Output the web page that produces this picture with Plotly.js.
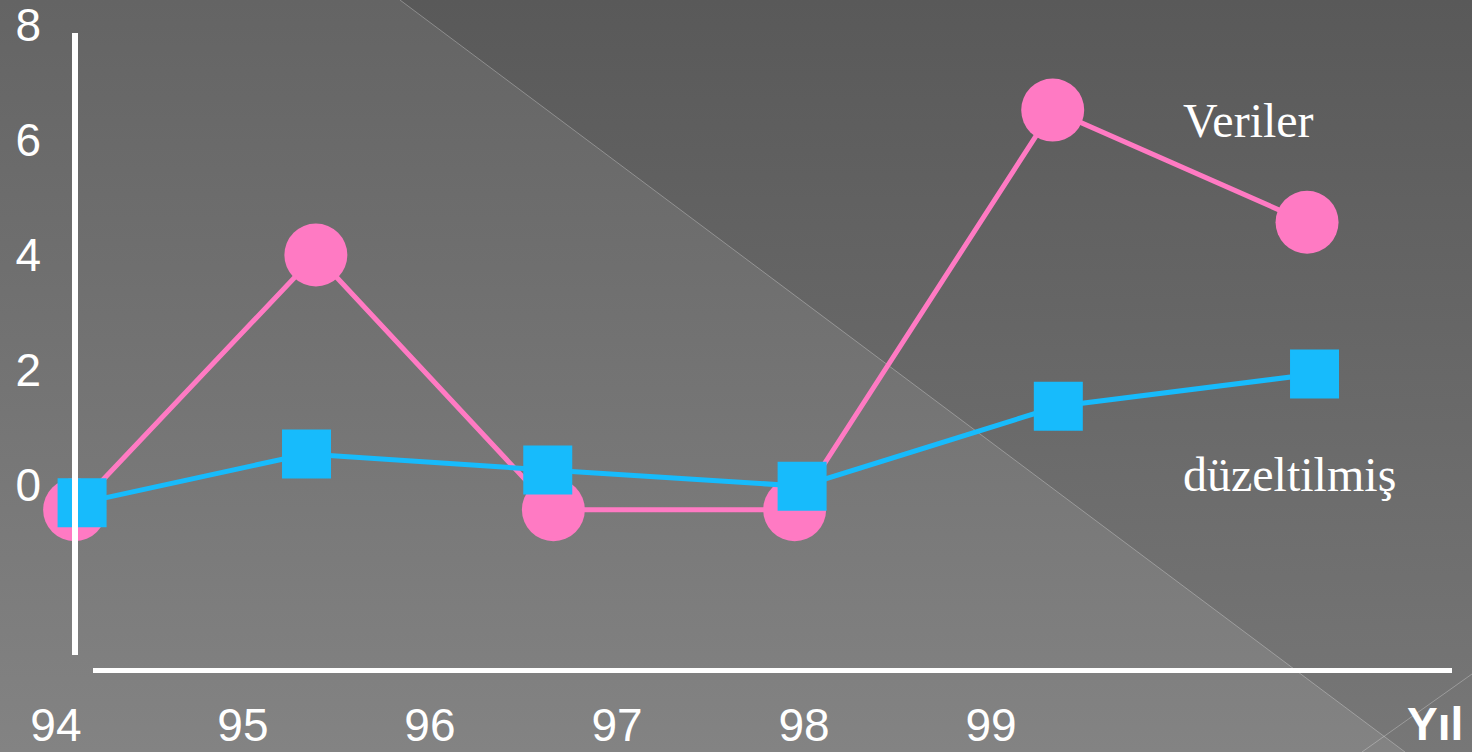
<!DOCTYPE html>
<html>
<head>
<meta charset="utf-8">
<script src="https://cdn.plot.ly/plotly-3.0.1.min.js"></script>
<style>
  html, body { margin: 0; padding: 0; width: 1472px; height: 752px; overflow: hidden; }
  #bg { position: absolute; left: 0; top: 0; }
  #chart { position: absolute; left: 0; top: 0; width: 1472px; height: 752px; }
</style>
</head>
<body>
<svg id="bg" width="1472" height="752" xmlns="http://www.w3.org/2000/svg">
  <defs>
    <linearGradient id="gLeft" x1="0" y1="0" x2="0" y2="1">
      <stop offset="0" stop-color="#646464"/>
      <stop offset="1" stop-color="#838383"/>
    </linearGradient>
    <linearGradient id="gRight" x1="0" y1="0" x2="0" y2="1">
      <stop offset="0" stop-color="#595959"/>
      <stop offset="1" stop-color="#777777"/>
    </linearGradient>
  </defs>
  <rect x="0" y="0" width="1472" height="752" fill="url(#gLeft)"/>
  <polygon points="400,0 1472,0 1472,752 1405,752" fill="url(#gRight)"/>
  <line x1="400" y1="0" x2="1405" y2="752" stroke="rgba(255,255,255,0.28)" stroke-width="1"/>
  <line x1="1362" y1="752" x2="1472" y2="674" stroke="rgba(255,255,255,0.28)" stroke-width="1"/>
</svg>
<div id="chart"></div>
<script>
// Year tick labels along the bottom axis
const years = [94, 95, 96, 97, 98, 99];
// Value tick labels along the left axis
const valueTicks = [0, 2, 4, 6, 8];

// "Veriler" series (raw data): positions along the year axis and values
const verilerX = [94.10, 95.39, 96.66, 97.95, 99.33, 100.69];
const verilerY = [-0.43, 4.00, -0.43, -0.43, 6.52, 4.57];

// "düzeltilmiş" series (adjusted data)
const duzeltX = [94.14, 95.34, 96.63, 97.99, 99.36, 100.73];
const duzeltY = [-0.31, 0.54, 0.26, -0.02, 1.37, 1.93];

const W = 1472, H = 752;
const M = { l: 46, r: 0, t: 0, b: 62 };
const plotW = W - M.l - M.r, plotH = H - M.t - M.b;
// helpers converting page pixels to paper fractions for decoration
const px = x => (x - M.l) / plotW;
const py = y => 1 - (y - M.t) / plotH;

const white = '#ffffff';
const pink = '#ff7ac3';
const blue = '#17bbfc';

const traces = [
  {
    x: verilerX, y: verilerY, type: 'scatter', mode: 'lines+markers',
    name: 'Veriler',
    line: { color: pink, width: 5 },
    marker: { symbol: 'circle', size: 63, color: pink, line: { width: 0 } },
    cliponaxis: false, hoverinfo: 'x+y'
  },
  {
    x: duzeltX, y: duzeltY, type: 'scatter', mode: 'lines+markers',
    name: 'düzeltilmiş',
    line: { color: blue, width: 5 },
    marker: { symbol: 'square', size: 49, color: blue, line: { width: 0 } },
    cliponaxis: false, hoverinfo: 'x+y'
  }
];

const tickFont = { family: 'Liberation Sans, Arial, sans-serif', size: 46, color: white };
const labelFont = { family: 'Liberation Serif, Times New Roman, serif', size: 48, color: white };

const layout = {
  width: W, height: H,
  margin: M,
  paper_bgcolor: 'rgba(0,0,0,0)',
  plot_bgcolor: 'rgba(0,0,0,0)',
  showlegend: false,
  xaxis: {
    range: [93.947, 101.572],
    tickmode: 'array', tickvals: years, ticktext: years.map(String),
    showgrid: false, zeroline: false, showline: false, ticks: '',
    tickfont: tickFont, ticklabelstandoff: 4, ticklabeloverflow: 'allow'
  },
  yaxis: {
    range: [-3.565, 8.435],
    tickmode: 'array', tickvals: valueTicks, ticktext: valueTicks.map(String),
    showgrid: false, zeroline: false, showline: false, ticks: '',
    tickfont: tickFont, ticklabelstandoff: 4, ticklabeloverflow: 'allow'
  },
  shapes: [
    // vertical value axis
    { type: 'line', xref: 'paper', yref: 'paper', x0: px(75), x1: px(75), y0: py(33), y1: py(655),
      line: { color: white, width: 6 } },
    // horizontal year axis
    { type: 'line', xref: 'paper', yref: 'paper', x0: px(93), x1: px(1452), y0: py(670.5), y1: py(670.5),
      line: { color: white, width: 5 } }
  ],
  annotations: [
    { text: 'Veriler', xref: 'paper', yref: 'paper', x: px(1181), y: py(120),
      xanchor: 'left', yanchor: 'middle', showarrow: false, font: labelFont },
    { text: 'düzeltilmiş', xref: 'paper', yref: 'paper', x: px(1181), y: py(474),
      xanchor: 'left', yanchor: 'middle', showarrow: false, font: labelFont },
    { text: '<b>Yıl</b>', xref: 'paper', yref: 'paper', x: px(1435), y: py(724),
      xanchor: 'center', yanchor: 'middle', showarrow: false, font: tickFont }
  ]
};

Plotly.newPlot('chart', traces, layout, { displayModeBar: false, staticPlot: true });
</script>
</body>
</html>
